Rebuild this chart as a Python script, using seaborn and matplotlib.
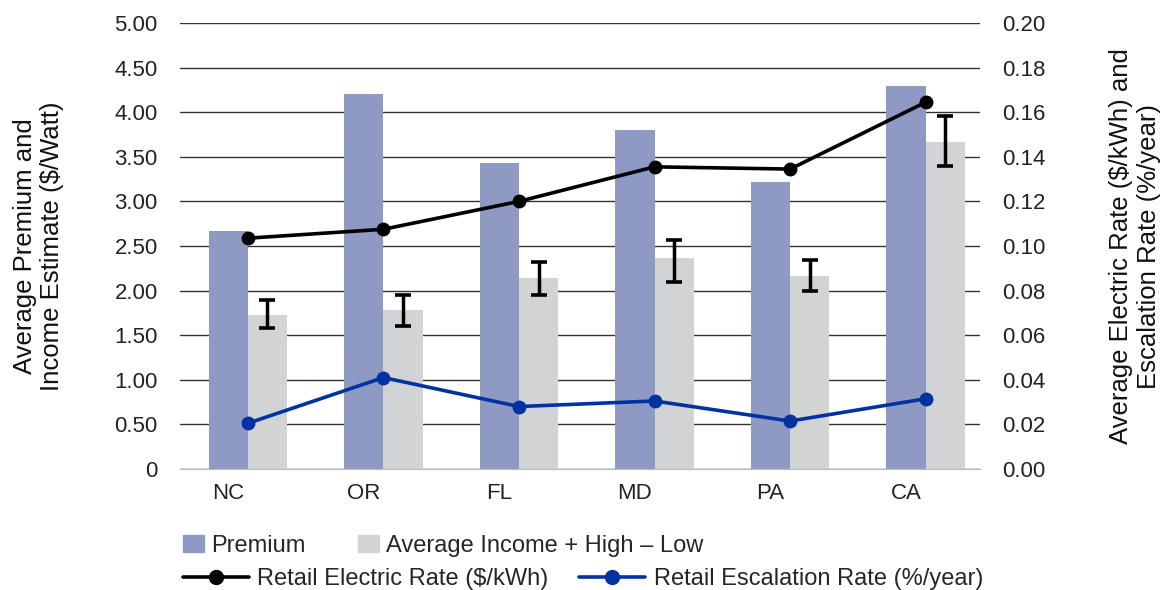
import matplotlib
matplotlib.use('Agg')
import matplotlib.pyplot as plt
import seaborn as sns
import pandas as pd
import numpy as np
from matplotlib.patches import Patch
from matplotlib.lines import Line2D

states = ['NC', 'OR', 'FL', 'MD', 'PA', 'CA']
premium = [2.67, 4.20, 3.43, 3.80, 3.22, 4.29]
avg_income = [1.73, 1.78, 2.14, 2.37, 2.16, 3.67]
income_high = [1.89, 1.95, 2.32, 2.57, 2.34, 3.96]
income_low = [1.58, 1.60, 1.95, 2.10, 2.00, 3.40]
electric_rate = [0.1035, 0.1075, 0.1200, 0.1355, 0.1345, 0.1645]
escalation_rate = [0.0205, 0.0410, 0.0280, 0.0305, 0.0215, 0.0315]

bar_names = ['Premium', 'Average Income + High \u2013 Low']
bar_colors = ['#8f9ac4', '#d1d3d4']
line_names = ['Retail Electric Rate ($/kWh)', 'Retail Escalation Rate (%/year)']
line_colors = ['#000000', '#0033a1']

sns.set_style('white')
plt.rcParams['font.family'] = ['Liberation Sans', 'DejaVu Sans']

df = pd.DataFrame({
    'state': states * 2,
    'value': premium + avg_income,
    'series': [bar_names[0]] * 6 + [bar_names[1]] * 6,
})

fig = plt.figure(figsize=(11.63, 5.9), dpi=100)
ax = fig.add_axes([0.1548, 0.2051, 0.8426 - 0.1548, 0.961 - 0.2051])

sns.barplot(data=df, x='state', y='value', hue='series', palette=bar_colors,
            width=0.58, saturation=1, legend=False, linewidth=0, ax=ax, zorder=2)

x = np.arange(len(states))
bw = 0.29
err_low = np.array(avg_income) - np.array(income_low)
err_high = np.array(income_high) - np.array(avg_income)
ax.errorbar(x + bw / 2, avg_income, yerr=[err_low, err_high], fmt='none',
            ecolor='black', elinewidth=2.5, capsize=5.5, capthick=2.6, zorder=4)

ax.set_ylim(0, 5)
ax.set_yticks(np.arange(0, 5.01, 0.5))
ax.set_yticklabels(['0'] + ['%.2f' % v for v in np.arange(0.5, 5.01, 0.5)])
ax.set_xlim(-0.5, 5.4)
ax.set_xticks(x - bw / 2)
ax.set_xticklabels(states)
ax.grid(axis='y', color='#333333', linewidth=1.0, zorder=0)
ax.set_axisbelow(True)
for s in ['top', 'left', 'right']:
    ax.spines[s].set_visible(False)
ax.spines['bottom'].set_color('#bbbbbb')
ax.tick_params(axis='y', length=0, labelsize=16, colors='#222222', pad=16)
ax.tick_params(axis='x', length=0, labelsize=16, colors='#222222', pad=10)
ax.set_xlabel('')
ax.set_ylabel('Average Premium and\nIncome Estimate ($/Watt)', fontsize=18.5,
              labelpad=36, color='#111111')

ax2 = ax.twinx()
sns.lineplot(x=x, y=electric_rate, color=line_colors[0], marker='o', markersize=10,
             markeredgewidth=0, linewidth=2.6, ax=ax2, zorder=5)
sns.lineplot(x=x, y=escalation_rate, color=line_colors[1], marker='o', markersize=10,
             markeredgewidth=0, linewidth=2.6, ax=ax2, zorder=5)
ax2.set_ylim(0, 0.2)
ax2.set_yticks(np.arange(0, 0.201, 0.02))
ax2.set_yticklabels(['%.2f' % v for v in np.arange(0, 0.201, 0.02)])
for s in ['top', 'left', 'right', 'bottom']:
    ax2.spines[s].set_visible(False)
ax2.tick_params(axis='y', length=0, labelsize=16, colors='#222222', pad=16)
ax2.set_ylabel('Average Electric Rate ($/kWh) and\nEscalation Rate (%/year)',
               fontsize=18.5, rotation=90, labelpad=46, color='#111111')
ax2.yaxis.set_label_position('right')

bar_handles = [Patch(color=c, label=n) for c, n in zip(bar_colors, bar_names)]
fig.legend(handles=bar_handles, loc='center left', bbox_to_anchor=(0.139, 0.075),
           ncol=2, frameon=False, fontsize=17, handlelength=0.9, handleheight=0.7,
           handletextpad=0.3, columnspacing=2.2, borderpad=0.4)
line_handles = [Line2D([0], [0], color=c, marker='o', markersize=10, linewidth=2.6, label=n)
                for c, n in zip(line_colors, line_names)]
fig.legend(handles=line_handles, loc='center left', bbox_to_anchor=(0.139, 0.019),
           ncol=2, frameon=False, fontsize=17, handlelength=2.8,
           handletextpad=0.35, columnspacing=1.3, borderpad=0.4)

fig.savefig('out.png', dpi=100)
